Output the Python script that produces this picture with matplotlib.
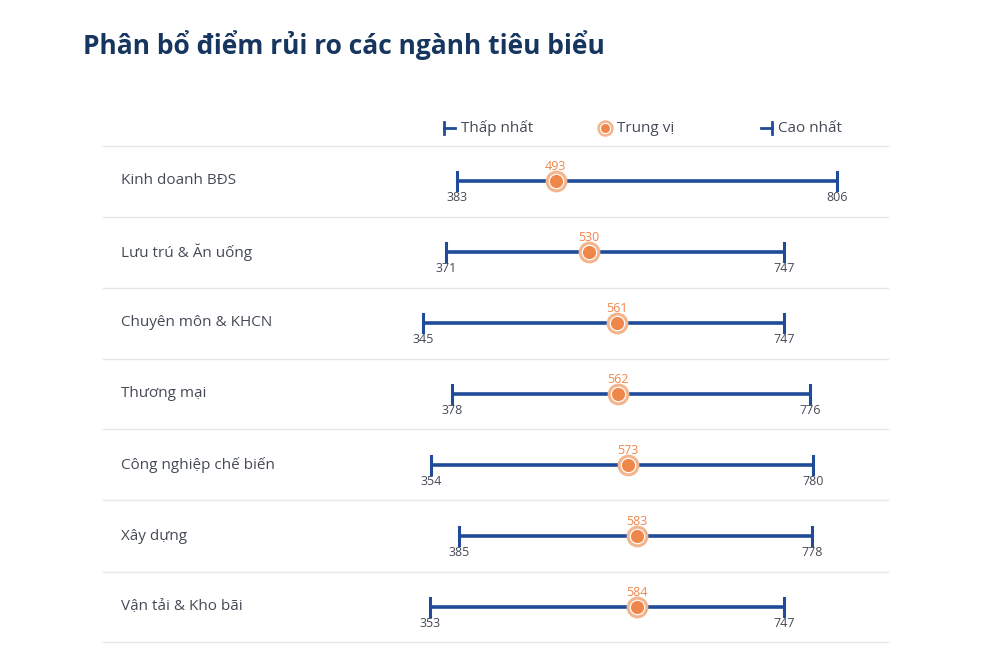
import matplotlib.pyplot as plt
from matplotlib import rcParams

rcParams['font.family'] = ['Open Sans', 'DejaVu Sans']

# Data
sectors = ['Kinh doanh BĐS', 'Lưu trú & Ăn uống', 'Chuyên môn & KHCN', 'Thương mại',
           'Công nghiệp chế biến', 'Xây dựng', 'Vận tải & Kho bãi']
min_scores = [383, 371, 345, 378, 354, 385, 353]
median_scores = [493, 530, 561, 562, 573, 583, 584]
max_scores = [806, 747, 747, 776, 780, 778, 747]

NAVY = '#1f4b99'
ORANGE = '#f0874a'
PEACH = '#f4b48c'
GRID = '#e3e6ea'
TEXT = '#444a55'
TITLE = '#16365f'

fig = plt.figure(figsize=(10, 6.58), dpi=100)
ax = fig.add_axes([0, 0, 1, 1])
# value scale: x_px = 113 + v * 0.898 ; rows: y_px = 181 + i * 71
ax.set_xlim(-113 / 0.898, (1000 - 113) / 0.898)
ax.set_ylim((658 - 181) / 71, -181 / 71)
ax.axis('off')

fig.text(0.083, 1 - 45 / 658, 'Phân bổ điểm rủi ro các ngành tiêu biểu',
         fontsize=19, fontweight='bold', color=TITLE, va='center', ha='left')

# row separators
x_lo = (103 - 113) / 0.898
x_hi = (888 - 113) / 0.898
for i in range(len(sectors) + 1):
    ax.plot([x_lo, x_hi], [i - 0.5, i - 0.5], color=GRID, lw=1.0, zorder=1)

label_x = (121 - 113) / 0.898
cap = 0.13
for i, name in enumerate(sectors):
    lo, med, hi = min_scores[i], median_scores[i], max_scores[i]
    ax.text(label_x, i, name, fontsize=11, color=TEXT, va='center', ha='left')
    ax.plot([lo, hi], [i, i], color=NAVY, lw=2.6, solid_capstyle='butt', zorder=2)
    ax.plot([lo, lo], [i - cap, i + cap], color=NAVY, lw=2.2, zorder=2)
    ax.plot([hi, hi], [i - cap, i + cap], color=NAVY, lw=2.2, zorder=2)
    ax.plot([med], [i], 'o', ms=13.5, mfc='white', mec=PEACH, mew=2.2, zorder=3)
    ax.plot([med], [i], 'o', ms=9.5, mfc=ORANGE, mec='none', zorder=4)
    ax.text(med, i - 0.21, str(med), fontsize=9, color=ORANGE, ha='center', va='center')
    ax.text(lo, i + 0.23, str(lo), fontsize=9, color=TEXT, ha='center', va='center')
    ax.text(hi, i + 0.23, str(hi), fontsize=9, color=TEXT, ha='center', va='center')

# legend row
ly = (128 - 181) / 71
lh = 0.08
x1 = (444 - 113) / 0.898
x2 = (455 - 113) / 0.898
ax.plot([x1, x1], [ly - lh, ly + lh], color=NAVY, lw=2)
ax.plot([x1, x2], [ly, ly], color=NAVY, lw=2)
ax.text((461 - 113) / 0.898, ly, 'Thấp nhất', fontsize=11, color=TEXT, va='center')

ax.plot([(605 - 113) / 0.898], [ly], 'o', ms=10, mfc='white', mec=PEACH, mew=1.8)
ax.plot([(605 - 113) / 0.898], [ly], 'o', ms=6.5, mfc=ORANGE, mec='none')
ax.text((617 - 113) / 0.898, ly, 'Trung vị', fontsize=11, color=TEXT, va='center')

x3 = (761 - 113) / 0.898
x4 = (772 - 113) / 0.898
ax.plot([x4, x4], [ly - lh, ly + lh], color=NAVY, lw=2)
ax.plot([x3, x4], [ly, ly], color=NAVY, lw=2)
ax.text((778 - 113) / 0.898, ly, 'Cao nhất', fontsize=11, color=TEXT, va='center')

fig.savefig('out.png', dpi=100)
